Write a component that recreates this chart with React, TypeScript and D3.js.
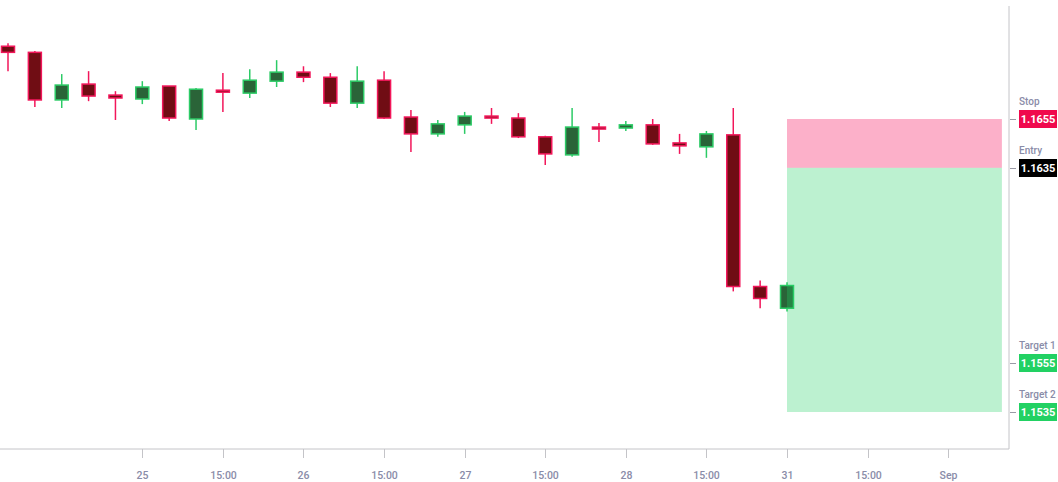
import { useMemo } from 'react'
import * as d3 from 'd3'

// OHLC per bar (bar index 0..29)
const opens = [1.16848, 1.16823, 1.16628, 1.16693, 1.16648, 1.16632, 1.16685, 1.1655, 1.16668, 1.16656, 1.16705, 1.16742, 1.16721, 1.16615, 1.16709, 1.16558, 1.16489, 1.16526, 1.16562, 1.16554, 1.16477, 1.16403, 1.16517, 1.16513, 1.16526, 1.16452, 1.16436, 1.16485, 1.15864, 1.15775]
const highs = [1.1686, 1.16828, 1.16734, 1.16746, 1.16664, 1.16705, 1.16685, 1.16677, 1.16738, 1.16754, 1.16791, 1.16766, 1.16738, 1.16766, 1.16746, 1.16587, 1.16546, 1.16579, 1.16595, 1.16574, 1.16481, 1.16595, 1.16534, 1.16542, 1.1655, 1.16489, 1.16501, 1.16595, 1.15889, 1.15881]
const lows = [1.16746, 1.16599, 1.16595, 1.16623, 1.16546, 1.16611, 1.16542, 1.16505, 1.16579, 1.16636, 1.16681, 1.16701, 1.16599, 1.16595, 1.1655, 1.16415, 1.16477, 1.16489, 1.1653, 1.16472, 1.16362, 1.16395, 1.16456, 1.16501, 1.16444, 1.16407, 1.16391, 1.15844, 1.15775, 1.15762]
const closes = [1.16823, 1.16628, 1.16689, 1.16644, 1.16636, 1.16681, 1.16554, 1.16672, 1.1666, 1.16709, 1.16742, 1.16721, 1.16615, 1.16705, 1.16554, 1.16489, 1.1653, 1.16562, 1.16554, 1.16477, 1.16407, 1.16517, 1.16509, 1.16526, 1.16448, 1.1644, 1.16489, 1.15864, 1.15815, 1.15868]

// x-axis ticks (bar index → label)
const tickIndex = [5, 8, 11, 14, 17, 20, 23, 26, 29, 32, 35]
const tickLabels = ['25', '15:00', '26', '15:00', '27', '15:00', '28', '15:00', '31', '15:00', 'Sep']

// trade levels
const levelNames = ['Stop', 'Entry', 'Target 1', 'Target 2']
const levelValues = [1.1655, 1.1635, 1.1555, 1.1535]
const levelColors = ['#f0094d', '#000000', '#22d163', '#22d163']
const zoneStart = 29
const zoneEnd = 37

const RED_FILL = '#700d14'
const RED_LINE = '#f2165a'
const GREEN_FILL = '#2a6438'
const GREEN_LINE = '#2ccb66'
const FONT = 'Roboto, Inter, "Noto Sans", sans-serif'

export default function App() {
  const width = 1058
  const height = 482
  const axisX = 1009
  const axisY = 449

  const x = useMemo(() => d3.scaleLinear().domain([0, 29]).range([8, 787]), [])
  const y = useMemo(() => d3.scaleLinear().domain([1.1535, 1.1655]).range([412, 119]), [])

  const bars = opens.map((o, i) => ({ o, h: highs[i], l: lows[i], c: closes[i], i }))
  const bodyW = 13

  const [stop, entry, , target2] = levelValues

  return (
    <svg width={width} height={height}
      style={{ position: 'fixed', left: 0, top: 0, background: '#fff' }}
      fontFamily={FONT}>
      {/* candles */}
      {bars.map(b => {
        const up = b.c >= b.o
        const line = up ? GREEN_LINE : RED_LINE
        const top = y(Math.max(b.o, b.c))
        const bot = y(Math.min(b.o, b.c))
        return (
          <g key={b.i}>
            <line x1={x(b.i)} x2={x(b.i)} y1={y(b.h)} y2={y(b.l)}
              stroke={line} strokeWidth={1.5} />
            <rect x={x(b.i) - bodyW / 2} y={top} width={bodyW}
              height={Math.max(bot - top, 2)}
              fill={up ? GREEN_FILL : RED_FILL} stroke={line} strokeWidth={1.5} />
          </g>
        )
      })}

      {/* risk / reward zones */}
      <rect x={x(zoneStart)} y={y(stop)} width={x(zoneEnd) - x(zoneStart)}
        height={y(entry) - y(stop)} fill="#f7105a" fillOpacity={0.33} />
      <rect x={x(zoneStart)} y={y(entry)} width={x(zoneEnd) - x(zoneStart)}
        height={y(target2) - y(entry)} fill="#22d163" fillOpacity={0.3} />

      {/* axes */}
      <line x1={0} x2={axisX} y1={axisY} y2={axisY} stroke="#c4c4c8" strokeWidth={1} />
      <line x1={axisX} x2={axisX} y1={6} y2={axisY} stroke="#c4c4c8" strokeWidth={1} />

      {tickIndex.map((t, k) => (
        <g key={t} transform={`translate(${Math.round(x(t)) + 0.5},${axisY})`}>
          <line y1={0} y2={9} stroke="#c4c4c8" />
          <text y={30} textAnchor="middle" fontSize={10.5} fontWeight={500}
            fill="#8a8ca8">{tickLabels[k]}</text>
        </g>
      ))}

      {/* price labels */}
      {levelValues.map((v, k) => {
        const yy = Math.round(y(v))
        return (
          <g key={levelNames[k]}>
            <line x1={axisX + 1} x2={axisX + 7} y1={yy + 0.5} y2={yy + 0.5} stroke="#9a9aa6" />
            <text x={1019} y={yy - 14} fontSize={10} fontWeight={500} fill="#8a8ca8">
              {levelNames[k]}
            </text>
            <rect x={1019} y={yy - 9} width={38} height={18} fill={levelColors[k]} />
            <text x={1038} y={yy + 4} textAnchor="middle" fontSize={11} fontWeight={700}
              fill="#fff">{v.toFixed(4)}</text>
          </g>
        )
      })}
    </svg>
  )
}
